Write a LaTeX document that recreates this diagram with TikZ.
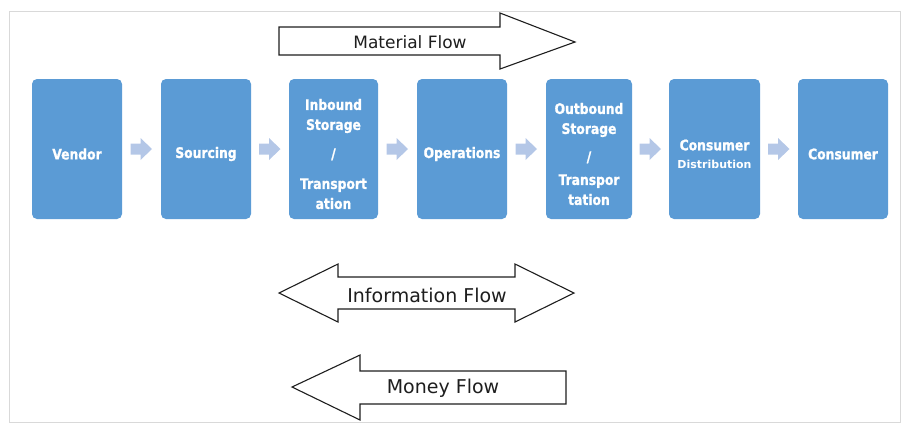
\documentclass[tikz,border=0pt]{standalone}
\usepackage{fontspec}
\setmainfont{DejaVu Sans}
\newfontfamily\boxfont{DejaVu Sans}[UprightFont={* Bold},FakeStretch=0.85,FakeBold=1.2]
\newfontfamily\boxfontwide{DejaVu Sans}[UprightFont={* Bold}]
\usetikzlibrary{calc}
\definecolor{boxblue}{RGB}{91,155,213}
\definecolor{arrowblue}{RGB}{180,199,231}
\definecolor{framegray}{RGB}{217,217,217}
\definecolor{textdark}{RGB}{30,30,30}
\tikzset{
  stage/.style={draw=none, fill=boxblue, rounded corners=5pt, minimum width=90pt,
    minimum height=140pt, inner sep=0pt},
  stagetext/.style={text=white, align=center, inner sep=0pt, yshift=-5pt,
    font=\boxfont\fontsize{14.5}{20}\selectfont},
  flowarrow/.style={draw=textdark, line width=1.1pt, fill=white, line join=miter},
  flowlabel/.style={text=textdark, inner sep=0pt},
  smallarrow/.pic={
    \fill[arrowblue] (-11,-5.5) -- (-1,-5.5) -- (-1,-11) -- (10.5,0) -- (-1,11) -- (-1,5.5) -- (-11,5.5) -- cycle;
  }
}
\begin{document}
\begin{tikzpicture}[x=1pt,y=-1pt]
\useasboundingbox (0,0) rectangle (909,432);
\draw[framegray, line width=1pt] (9.5,11.5) rectangle (900.5,422.5);

% stages
\node[stage, label={[stagetext]center:Vendor}] (vendor) at (77,149) {};
\node[stage, label={[stagetext]center:Sourcing}] (sourcing) at (206,149) {};
\node[stage, minimum width=89pt, label={[stagetext]center:Inbound\\Storage\\[9pt]/\\[10pt]Transport\\ation}] (inbound) at (333.5,149) {};
\node[stage, label={[stagetext]center:Operations}] (operations) at (462,149) {};
\node[stage, minimum width=86pt, label={[stagetext]center:Outbound\\Storage\\[8pt]/\\[3pt]Transpor\\tation}] (outbound) at (589,149) {};
\node[stage, minimum width=91pt, label={[stagetext]center:Consumer\\[-2pt]{\boxfontwide\fontsize{11}{18}\selectfont Distribution}}] (distribution) at (714.5,149) {};
\node[stage, label={[stagetext]center:Consumer}] (consumer) at (843,149) {};

% small arrows between stages
\foreach \a/\b in {vendor/sourcing, sourcing/inbound, inbound/operations, operations/outbound, outbound/distribution, distribution/consumer}{
  \path ($(\a.east)!0.5!(\b.west)$) pic {smallarrow};
}

% material flow
\draw[flowarrow] (279,27) -- (500,27) -- (500,13) -- (575,42) -- (500,69) -- (500,55) -- (279,55) -- cycle;
\node[flowlabel, font=\fontsize{17}{20}\selectfont] (material) at (410,42) {Material Flow};

% information flow
\draw[flowarrow] (279,293) -- (338,264) -- (338,277) -- (515,277) -- (515,264) -- (574,293) -- (515,322) -- (515,309) -- (338,309) -- (338,322) -- cycle;
\node[flowlabel, font=\fontsize{19}{22}\selectfont] (information) at (427,295) {Information Flow};

% money flow
\draw[flowarrow] (292,387) -- (360,355) -- (360,371) -- (566,371) -- (566,404) -- (360,404) -- (360,420) -- cycle;
\node[flowlabel, font=\fontsize{19}{22}\selectfont] (money) at (443,388) {Money Flow};
\end{tikzpicture}
\end{document}
